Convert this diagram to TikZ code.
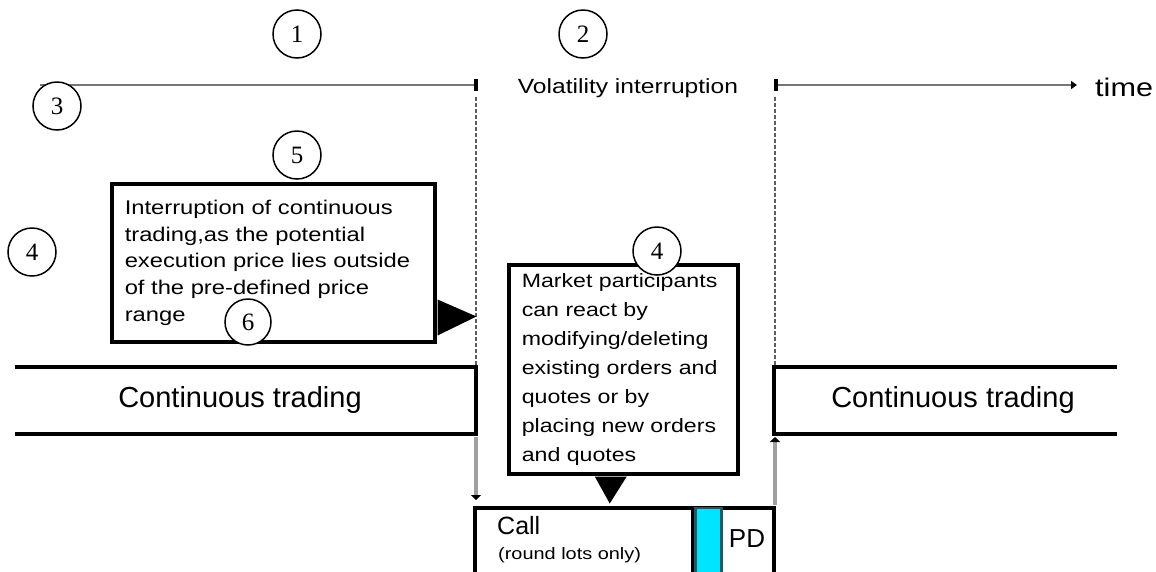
\documentclass[tikz,border=0pt]{standalone}
\usepackage{fontspec}
\setmainfont{Liberation Sans}
\newfontfamily\widesans[FakeStretch=1.2]{Liberation Sans}
\newfontfamily\numserif{Liberation Serif}
\usetikzlibrary{arrows.meta,calc}

\definecolor{axisgray}{HTML}{767676}
\definecolor{dashgray}{HTML}{5E5E5E}
\definecolor{railgray}{HTML}{A0A0A0}
\definecolor{callcyan}{HTML}{00E5FF}
\definecolor{calledge}{HTML}{1E5A60}

\begin{document}
\begin{tikzpicture}[x=1pt,y=-1pt,
  marker/.style={circle,draw,line width=1.5pt,fill=white,minimum size=48pt,inner sep=0pt,
    font=\numserif\fontsize{25}{25}\selectfont},
  axis/.style={draw=axisgray,line width=2.5pt},
  tick/.style={draw=black,line width=3.5pt},
  phase/.style={draw=dashgray,line width=2.8pt,dash pattern=on 4pt off 2pt},
  rail/.style={draw=railgray,line width=4.5pt,-{Triangle[length=5pt,width=10pt,color=black]}},
  callout/.style={draw,line width=3.5pt,inner xsep=13pt,inner ysep=0pt,align=left,anchor=north west},
  frame/.style={draw,line width=3.5pt},
  pointer/.style={fill=black},
]
\useasboundingbox (0,0) rectangle (1156,571);

% time axis
\coordinate (t0) at (40,85);
\coordinate (vi-l) at (476,85);
\coordinate (vi-r) at (776,85);
\node[anchor=west,inner sep=0pt,font=\widesans\fontsize{25.5}{25.5}\selectfont] (time) at (1095,87) {time};
\node[font=\widesans\fontsize{20.5}{20.5}\selectfont] (vi) at (628,88) {Volatility interruption};
\draw[axis] (t0) -- (vi-l);
\draw[axis,-{Triangle[length=6pt,width=8pt,color=black]}] (vi-r) -- ($(time.west |- vi-r)+(-18,0)$);
\draw[tick] ($(vi-l)+(0,-6)$) -- ($(vi-l)+(0,6)$);
\draw[tick] ($(vi-r)+(0,-6)$) -- ($(vi-r)+(0,6)$);

% continuous trading phases
\coordinate (ctl-nw) at (15,367);
\coordinate (ctl-ne) at (476,367);
\coordinate (ctl-se) at (476,434);
\coordinate (ctl-sw) at (15,434);
\coordinate (ctr-nw) at (774,367);
\coordinate (ctr-ne) at (1117,367);
\coordinate (ctr-sw) at (774,434);
\coordinate (ctr-se) at (1117,434);
\draw[frame] (ctl-nw) -- (ctl-ne) -- (ctl-se) -- (ctl-sw);
\draw[frame] (ctr-ne) -- (ctr-nw) -- (ctr-sw) -- (ctr-se);
\node[font=\fontsize{29}{29}\selectfont] (ctl) at (240,400) {Continuous trading};
\node[font=\fontsize{29}{29}\selectfont] (ctr) at (953,400) {Continuous trading};

% interruption boundaries
\draw[phase] ($(vi-l)+(0,12)$) -- ($(ctl-ne)+(0,-2)$);
\draw[phase] ($(vi-r)+(-1,12)$) -- ($(ctr-nw)+(1,-2)$);

% call phase
\coordinate (call-nw) at (475,508);
\coordinate (call-ne) at (774,508);
\draw[frame] ($(call-nw)+(0,72)$) -- (call-nw) -- (call-ne) -- ($(call-ne)+(0,72)$);
\draw[frame] (693,508) -- (693,580);
\filldraw[fill=callcyan,draw=calledge,line width=2.5pt] (695.5,508) rectangle (721.5,580);
\node[anchor=west,inner sep=0pt,font=\fontsize{25}{25}\selectfont] (call) at (497,526) {Call};
\node[anchor=west,inner sep=0pt,font=\widesans\fontsize{16.6}{16.6}\selectfont] (lots) at (498,555) {(round lots only)};
\node[font=\fontsize{26}{26}\selectfont] (pd) at (747,539) {PD};

\draw[rail] ($(ctl-se)+(0,3)$) -- ($(call-nw)+(1,-8)$);
\draw[rail] ($(call-ne)+(1,-3)$) -- ($(ctr-sw)+(1,3)$);

% explanatory callouts
\node[callout,text width=297pt,minimum height=158pt,
  font=\widesans\fontsize{19.8}{26.7}\selectfont] (halt) at (110,182)
  {Interruption of continuous\\trading,as the potential\\execution price lies outside\\of the pre-defined price\\range};
\fill[pointer] ($(halt.south east)+(1,-44)$) -- ($(halt.south east)+(40,-27)$) -- ($(halt.south east)+(1,-8)$) -- cycle;

\node[callout,text width=203pt,minimum height=209pt,
  font=\widesans\fontsize{19.3}{29}\selectfont] (react) at (507,263)
  {Market participants\\can react by\\modifying/deleting\\existing orders and\\quotes or by\\placing new orders\\and quotes};
\fill[pointer] ($(react.south)+(-28.5,1)$) -- ($(react.south)+(3.5,1)$) -- ($(react.south)+(-13.5,28)$) -- cycle;

% numbered markers
\node[marker] (m1) at (297,34) {1};
\node[marker] (m2) at (583,34) {2};
\node[marker] (m3) at (57,106) {3};
\node[marker] (m4a) at (32,252) {4};
\node[marker] (m5) at (297,155) {5};
\node[marker,minimum size=46pt] (m6) at (248,322) {6};
\node[marker] (m4b) at (657,251) {4};
\end{tikzpicture}
\end{document}
